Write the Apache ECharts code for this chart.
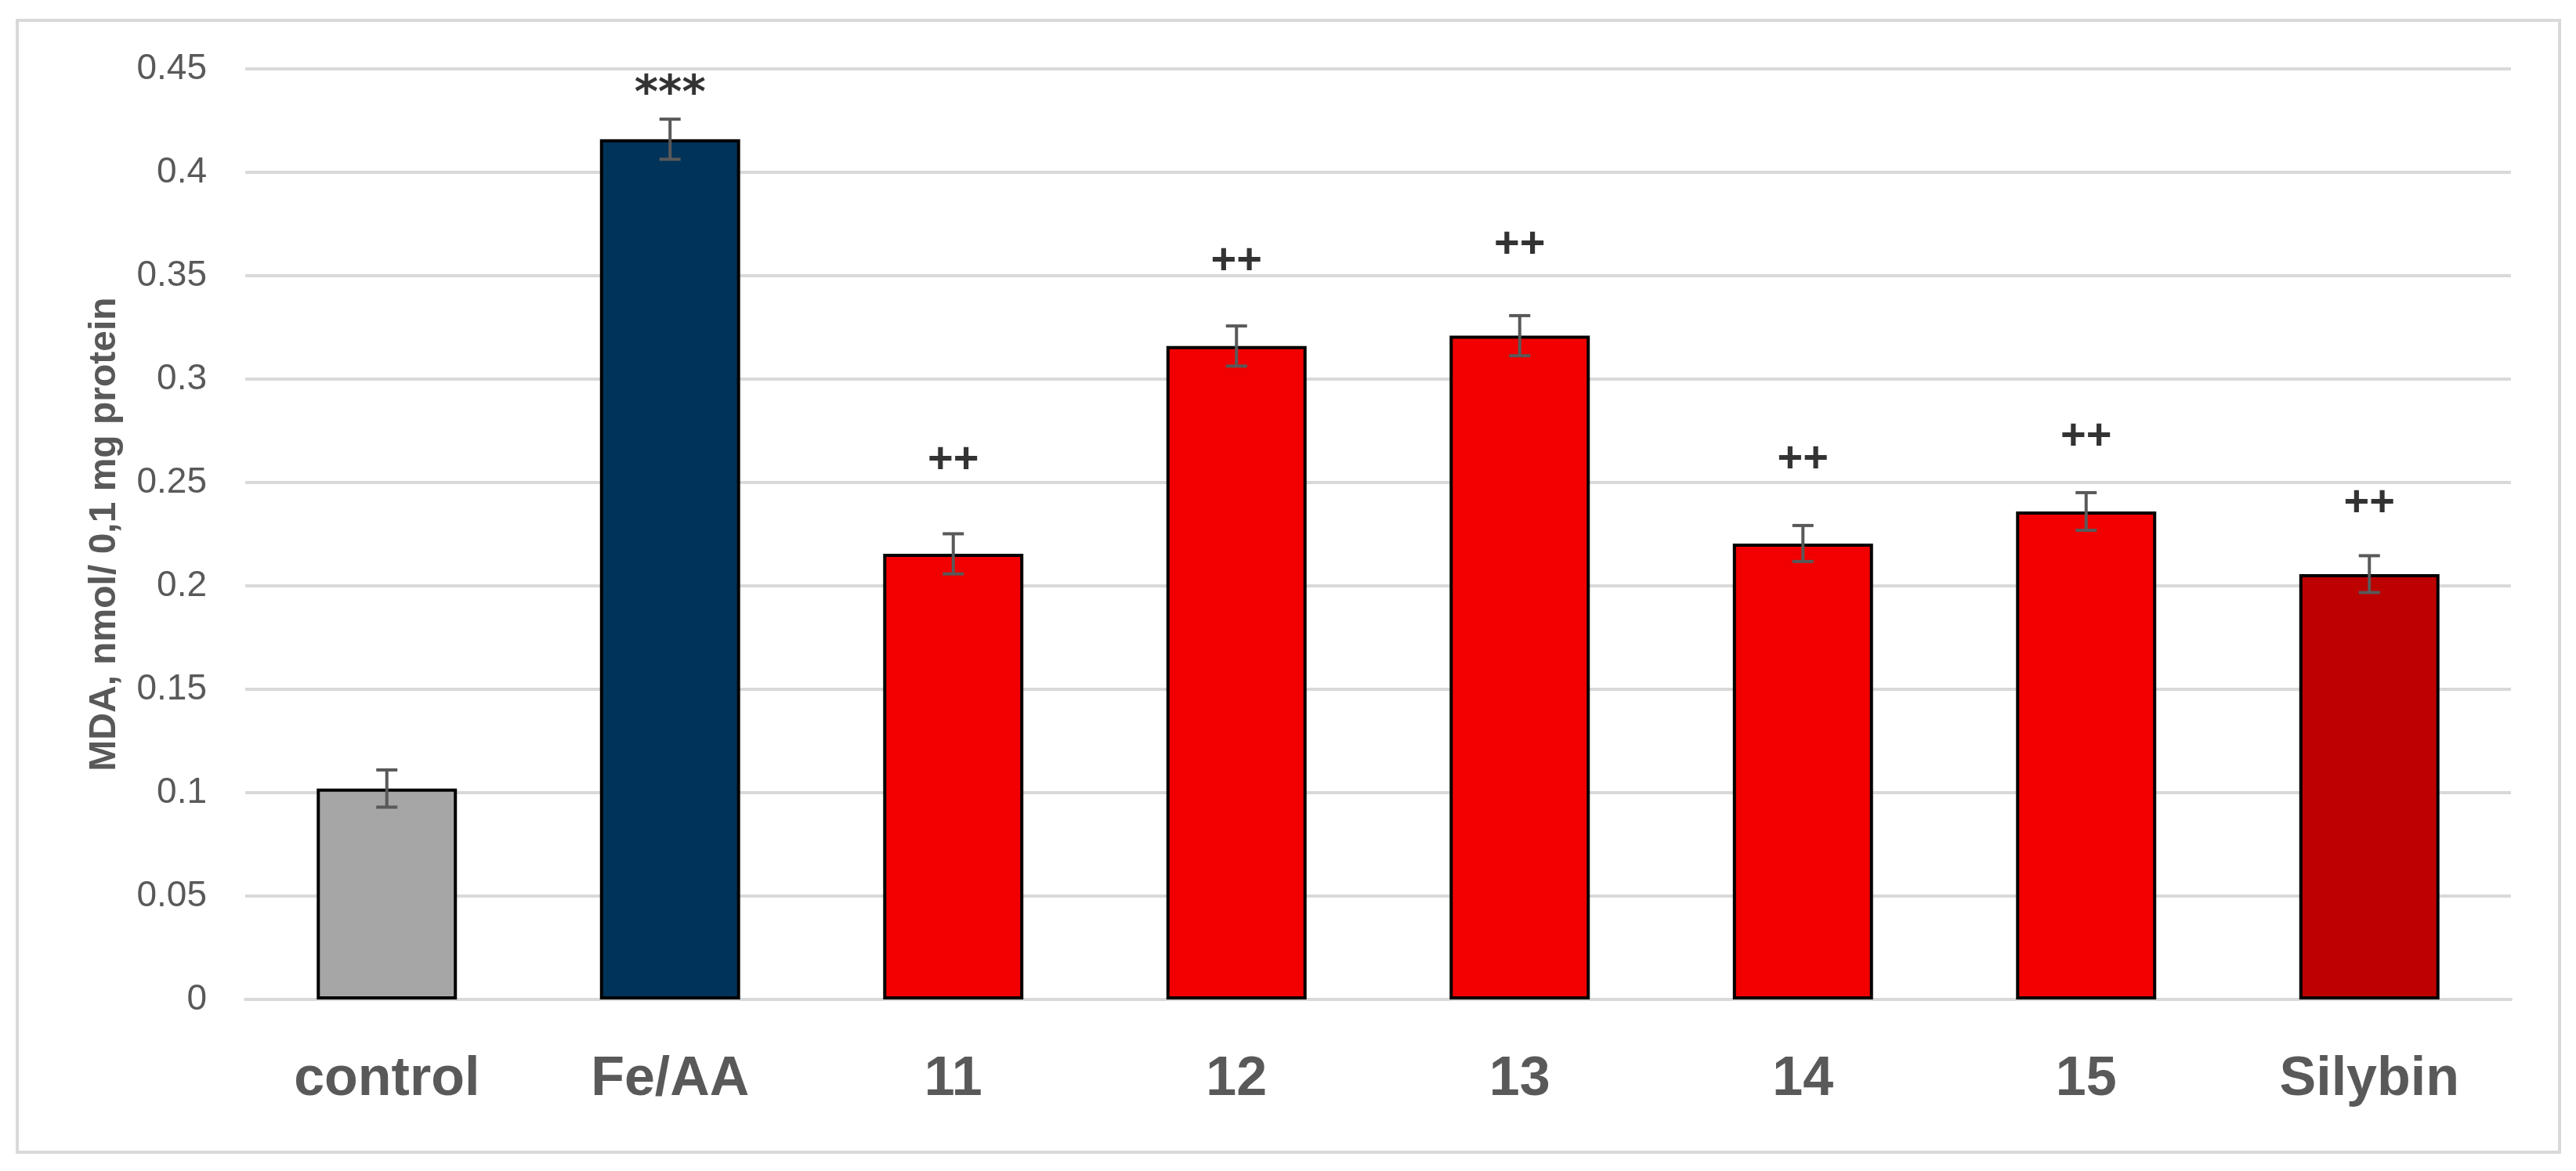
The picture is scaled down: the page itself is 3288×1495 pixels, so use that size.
<!DOCTYPE html>
<html>
<head>
<meta charset="utf-8">
<script src="https://cdn.jsdelivr.net/npm/echarts@6/dist/echarts.min.js"></script>
<style>
html,body{margin:0;padding:0;background:#fff;}
#chart{width:3288px;height:1495px;}
</style>
</head>
<body>
<div id="chart"></div>
<script>
const categories = ['control', 'Fe/AA', '11', '12', '13', '14', '15', 'Silybin'];
const means = [0.102, 0.416, 0.2155, 0.316, 0.321, 0.2205, 0.236, 0.2057];
const errors = [0.009, 0.0097, 0.0097, 0.0097, 0.0097, 0.0087, 0.0091, 0.0089];
const barColors = ['#a6a6a6', '#003359', '#f20000', '#f20000', '#f20000', '#f20000', '#f20000', '#bd0000'];
const marks = ['', '***', '++', '++', '++', '++', '++', '++'];
const markLevels = [null, 0.4417, 0.2606, 0.357, 0.365, 0.261, 0.272, 0.2398];
const yTicks = { min: 0, max: 0.45, interval: 0.05 };
const yName = 'MDA, nmol/ 0,1 mg protein';

const chart = echarts.init(document.getElementById('chart'), null, { renderer: 'canvas' });

const barData = means.map((v, i) => ({ value: v, itemStyle: { color: barColors[i] } }));
const errData = means.map((v, i) => [i, v, errors[i]]);
const markData = [];
markLevels.forEach((lv, i) => {
  if (lv == null || !marks[i]) return;
  const isStar = marks[i].indexOf('*') >= 0;
  markData.push({
    value: [i, lv],
    name: marks[i],
    label: {
      fontFamily: isStar ? 'DejaVu Sans' : 'Liberation Sans',
      fontSize: isStar ? 58 : 56,
      offset: isStar ? [0, 12] : [0, 0]
    }
  });
});

const option = {
  animation: false,
  backgroundColor: '#ffffff',
  graphic: [{
    type: 'rect',
    shape: { x: 22, y: 26, width: 3245, height: 1445 },
    style: { fill: 'none', stroke: '#d9d9d9', lineWidth: 4 },
    silent: true
  }],
  grid: { left: 313, right: 83, top: 88, bottom: 219, containLabel: false },
  xAxis: {
    type: 'category',
    data: categories,
    axisLine: { show: true, lineStyle: { color: '#d9d9d9', width: 4 } },
    axisTick: { show: false },
    axisLabel: {
      color: '#595959',
      fontFamily: 'Liberation Sans',
      fontWeight: 'bold',
      fontSize: 70,
      margin: 68
    }
  },
  yAxis: {
    type: 'value',
    min: yTicks.min,
    max: yTicks.max,
    interval: yTicks.interval,
    name: yName,
    nameLocation: 'middle',
    nameRotate: 90,
    nameGap: 155,
    nameTextStyle: {
      color: '#595959',
      fontFamily: 'Liberation Sans',
      fontWeight: 'bold',
      fontSize: 48
    },
    axisLine: { show: false },
    axisTick: { show: false },
    splitLine: { show: true, lineStyle: { color: '#d9d9d9', width: 4 } },
    axisLabel: {
      color: '#595959',
      fontFamily: 'Liberation Sans',
      fontSize: 46,
      margin: 49
    }
  },
  series: [
    {
      type: 'bar',
      data: barData,
      barWidth: '49.5%',
      itemStyle: { borderColor: '#000000', borderWidth: 4 },
      z: 2
    },
    {
      type: 'custom',
      data: errData,
      z: 5,
      renderItem: function (params, api) {
        const x = api.value(0), y = api.value(1), e = api.value(2);
        const top = api.coord([x, y + e]);
        const bot = api.coord([x, y - e]);
        const hw = 13.5;
        const st = { stroke: '#595959', lineWidth: 4, fill: null };
        return {
          type: 'group',
          children: [
            { type: 'line', shape: { x1: top[0], y1: top[1], x2: bot[0], y2: bot[1] }, style: st },
            { type: 'line', shape: { x1: top[0] - hw, y1: top[1], x2: top[0] + hw, y2: top[1] }, style: st },
            { type: 'line', shape: { x1: bot[0] - hw, y1: bot[1], x2: bot[0] + hw, y2: bot[1] }, style: st }
          ]
        };
      }
    },
    {
      type: 'scatter',
      data: markData,
      symbolSize: 0,
      z: 6,
      label: {
        show: true,
        position: 'inside',
        color: '#000000',
        fontWeight: 'bold',
        formatter: function (p) { return p.name; }
      },
      emphasis: { disabled: true }
    }
  ]
};
chart.setOption(option);
</script>
</body>
</html>
